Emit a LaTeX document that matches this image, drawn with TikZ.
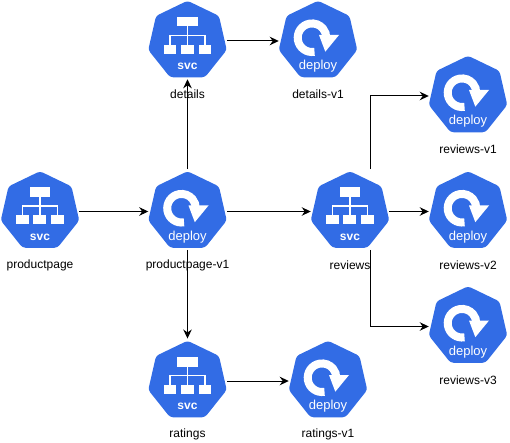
\documentclass[tikz,border=0pt]{standalone}
\usepackage{fontspec}
\setmainfont{Liberation Sans}
\usetikzlibrary{shapes.geometric, arrows.meta, calc}
\definecolor{kblue}{HTML}{326CE5}

\begin{document}
\begin{tikzpicture}[
    x=1pt, y=-1pt,
    hept/.style={regular polygon, regular polygon sides=7, fill=kblue, rounded corners=3pt,
                 minimum size=80.5pt, inner sep=0pt, outer sep=2pt},
    lbl/.style={font=\fontsize{12}{14}\selectfont, text=black, inner sep=0pt},
    arw/.style={-{Stealth[length=9pt, width=8.5pt]}, line width=1pt},
    icontxt/.style={text=white, inner sep=0pt},
    pics/svcicon/.style={code={
        \fill[white] (-10.5,-24) rectangle ++(20.5,9.5);
        \foreach \bx in {-24, -6.7, 11}
            \fill[white] (\bx,3.7) rectangle ++(12.7,9.3);
        \draw[white, line width=1.4pt] (-0.2,-15) -- (-0.2,4) (-17.7,4) -- (-17.7,-5.5) -- (17.3,-5.5) -- (17.3,4);
        \node[icontxt, font=\fontsize{12}{13}\selectfont\bfseries] at (0,25.8) {svc};
    }},
    pics/deployicon/.style={code={
        \draw[white, line width=8pt] (-3.5,10.8) arc[start angle=80, end angle=362, radius=14.3];
        \fill[white] (1,-6) -- (21,-6) -- (7.3,10.7) -- cycle;
        \node[icontxt, font=\fontsize{13}{14}\selectfont] at (0,25.5) {deploy};
    }},
]
\useasboundingbox (0,0) rectangle (510,443);

% services
\foreach \n/\x/\y/\t in {pp/40/211.5/productpage, det/187.5/41/details, rev/350/211.5/reviews, rat/187.5/381/ratings} {
    \node[hept] (\n) at (\x,\y) {};
    \pic at (\n.center) {svcicon};
    \node[lbl] (\n-lbl) at (\x,\y+53.5) {\t};
}
% deployments
\foreach \n/\x/\y/\t in {ppv/187.5/211.5/productpage-v1, detv/318/41/details-v1, ratv/328/381/ratings-v1,
                         rv1/468/96/reviews-v1, rv2/468/211.5/reviews-v2, rv3/468/326.5/reviews-v3} {
    \node[hept] (\n) at (\x,\y) {};
    \pic at (\n.center) {deployicon};
    \node[lbl] (\n-lbl) at (\x,\y+53.5) {\t};
}

\foreach \a/\b in {pp/ppv, ppv/rev, rev/rv2, det/detv, rat/ratv, ppv/det, ppv/rat}
    \draw[arw] (\a) -- (\b);

\coordinate (revup) at ([xshift=20pt]rev.north);
\coordinate (revdn) at ([xshift=20pt]rev.south);
\draw[arw] (revup) |- (rv1);
\draw[arw] (revdn) |- (rv3);
\end{tikzpicture}
\end{document}
